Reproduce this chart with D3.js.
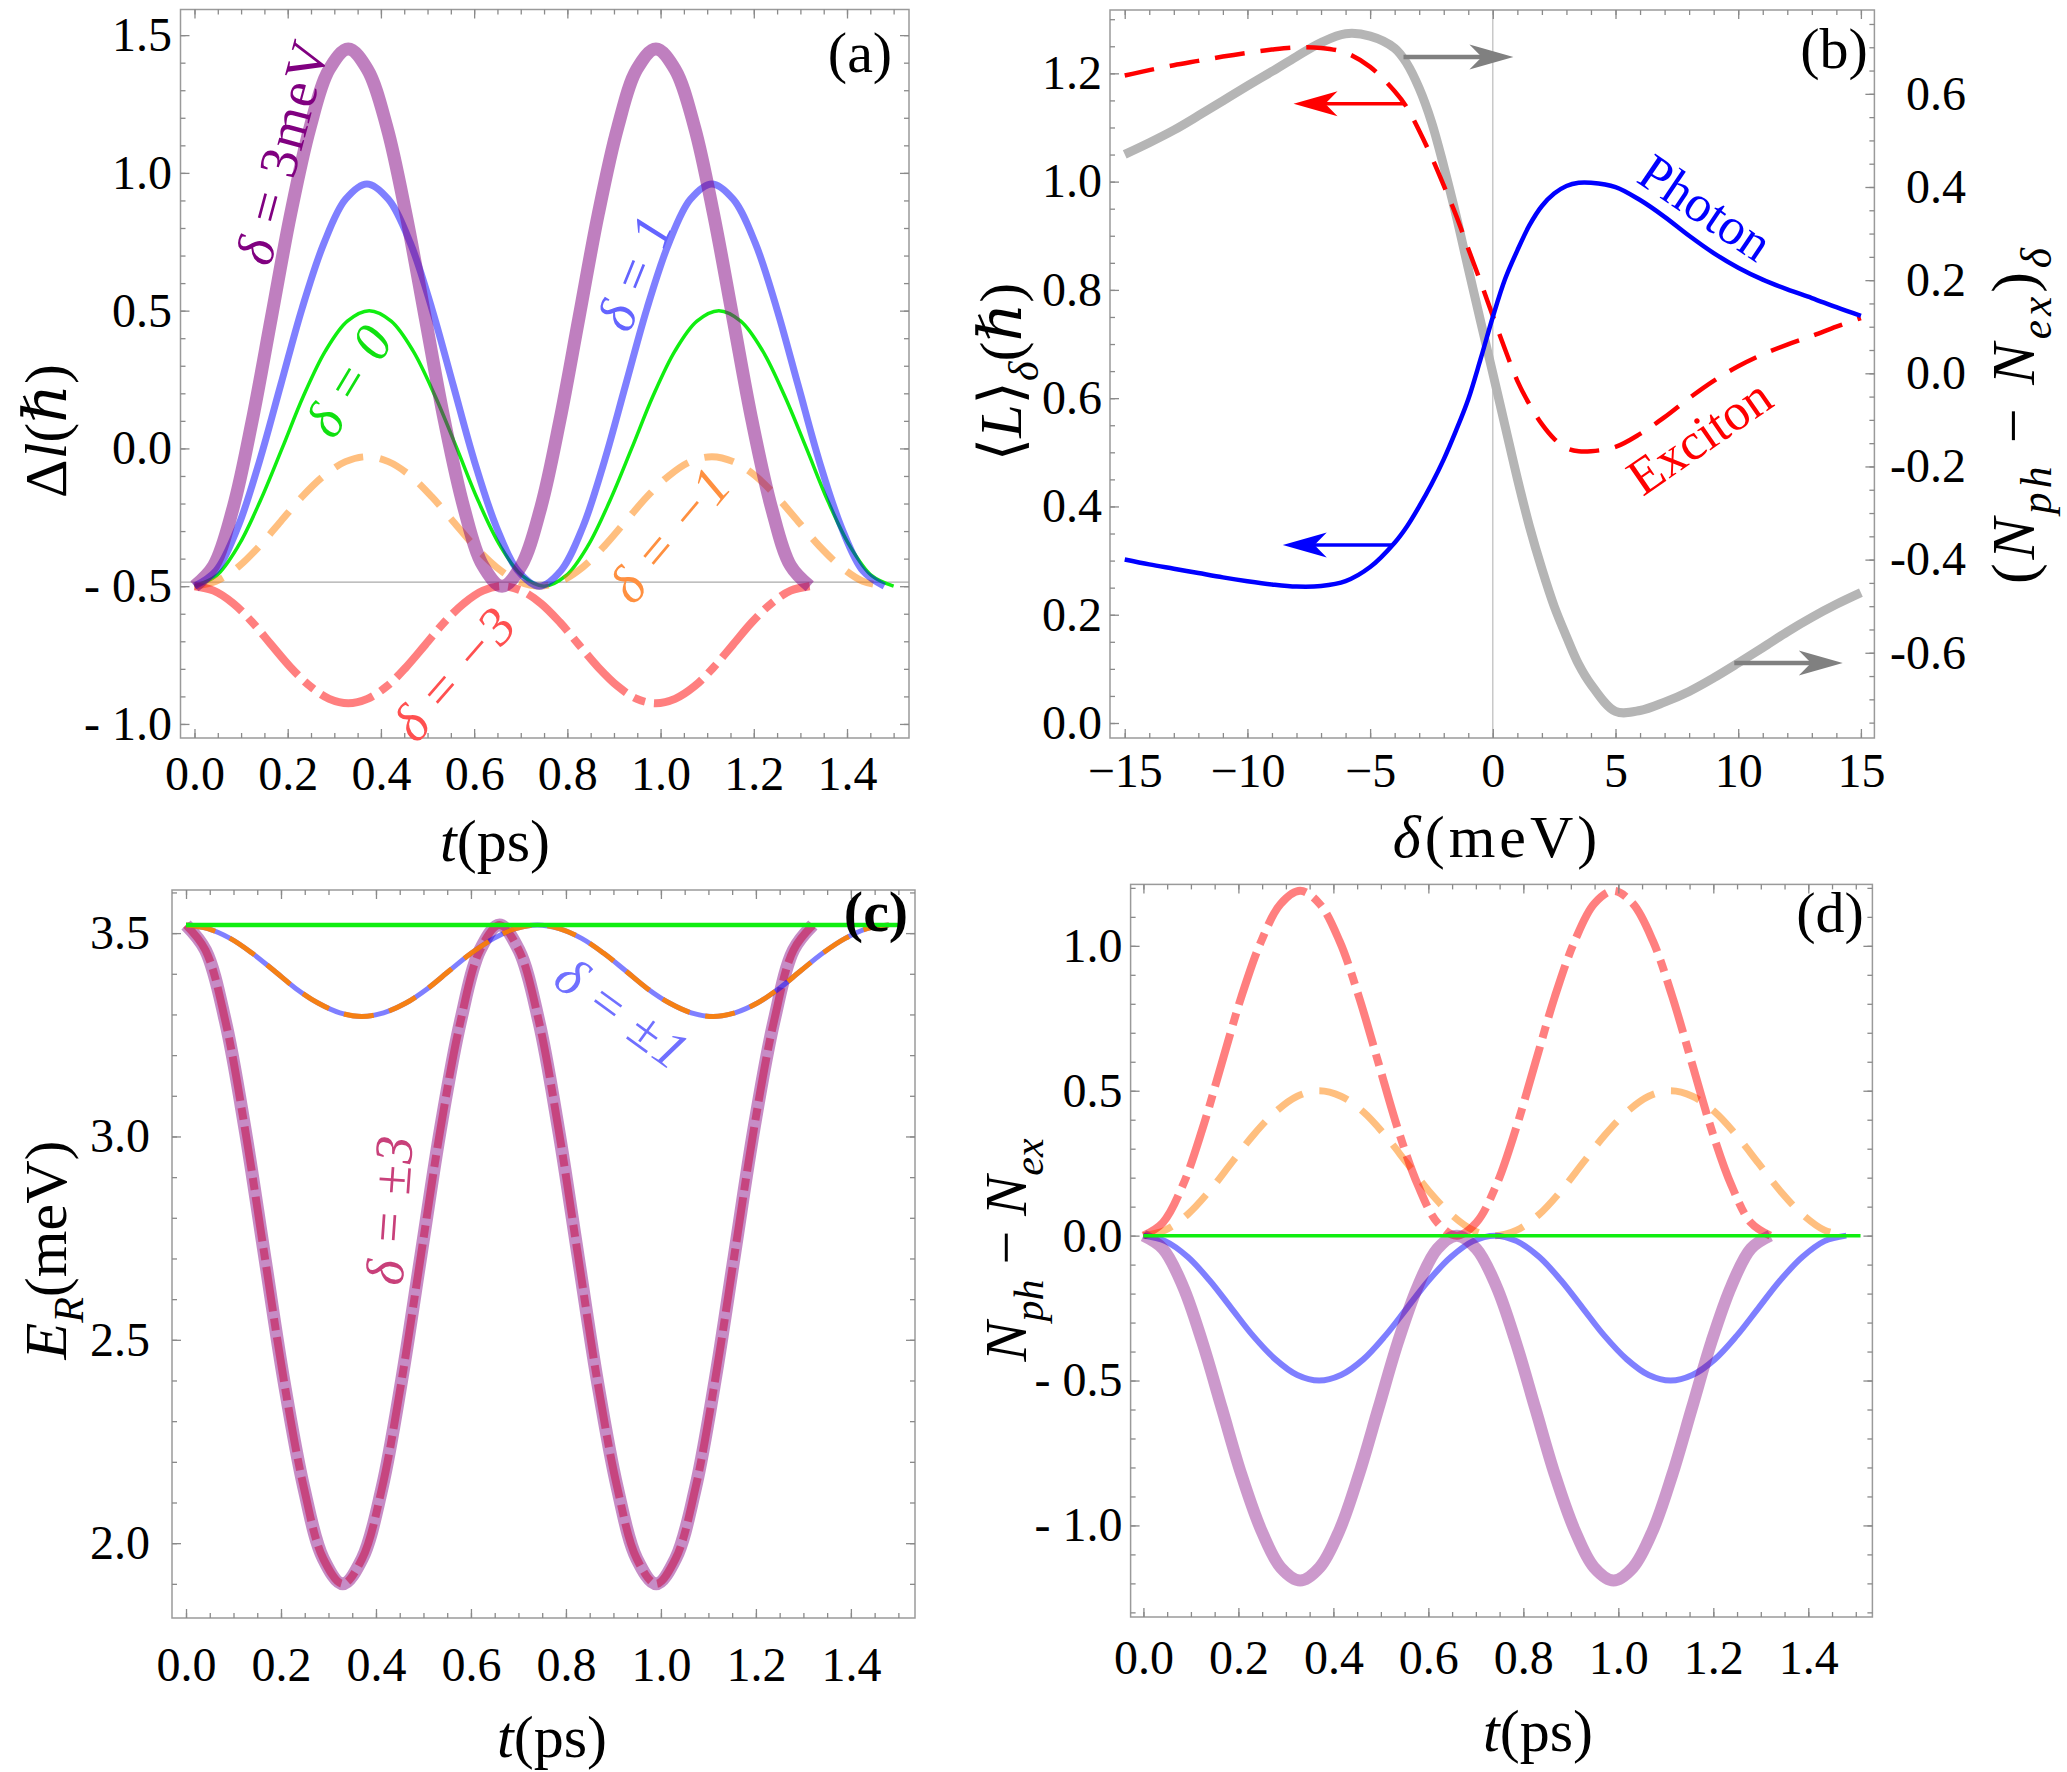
<!DOCTYPE html>
<html>
<head>
<meta charset="utf-8">
<script src="https://cdn.jsdelivr.net/npm/d3@7"></script>
<style>
  body { margin: 0; background: #fff; }
  svg text { font-family: "Liberation Serif", "DejaVu Serif", "Noto Serif", serif; }
</style>
</head>
<body>
<svg id="fig" width="2067" height="1772"></svg>
<script>
// ---- time grids (ps), one per detuning family ----
const tPm3 = [0, 0.041, 0.083, 0.124, 0.165, 0.206, 0.248, 0.289, 0.33, 0.371, 0.413, 0.454, 0.495, 0.536, 0.578, 0.619, 0.66,
  0.701, 0.743, 0.784, 0.825, 0.866, 0.908, 0.949, 0.99, 1.031, 1.073, 1.114, 1.155, 1.196, 1.238, 1.279, 1.32];
const tPm1 = [0, 0.046, 0.093, 0.139, 0.185, 0.231, 0.278, 0.324, 0.37, 0.416, 0.463, 0.509, 0.555, 0.601, 0.648, 0.694, 0.74,
  0.786, 0.833, 0.879, 0.925, 0.971, 1.018, 1.064, 1.11, 1.156, 1.203, 1.249, 1.295, 1.341, 1.388, 1.434, 1.48];
const tZero = [0, 0.047, 0.094, 0.141, 0.188, 0.234, 0.281, 0.328, 0.375, 0.422, 0.469, 0.516, 0.563, 0.609, 0.656, 0.703, 0.75,
  0.797, 0.844, 0.891, 0.938, 0.984, 1.031, 1.078, 1.125, 1.172, 1.219, 1.266, 1.313, 1.359, 1.406, 1.453, 1.5];
const tFlat = [0, 1.51];

// ---- (a) Δl(ħ) ----
const dlP3 = [-0.5, -0.426, -0.215, 0.102, 0.475, 0.848, 1.165, 1.376, 1.45, 1.376, 1.165, 0.848, 0.475, 0.102, -0.215, -0.426, -0.5,
  -0.426, -0.215, 0.102, 0.475, 0.848, 1.165, 1.376, 1.45, 1.376, 1.165, 0.848, 0.475, 0.102, -0.215, -0.426, -0.5];
const dlM3 = [-0.5, -0.516, -0.562, -0.631, -0.713, -0.794, -0.863, -0.909, -0.925, -0.909, -0.863, -0.794, -0.713, -0.631, -0.562, -0.516, -0.5,
  -0.516, -0.562, -0.631, -0.713, -0.794, -0.863, -0.909, -0.925, -0.909, -0.863, -0.794, -0.713, -0.631, -0.562, -0.516, -0.5];
const dlP1 = [-0.5, -0.444, -0.286, -0.049, 0.23, 0.509, 0.746, 0.904, 0.96, 0.904, 0.746, 0.509, 0.23, -0.049, -0.286, -0.444, -0.5,
  -0.444, -0.286, -0.049, 0.23, 0.509, 0.746, 0.904, 0.96, 0.904, 0.746, 0.509, 0.23, -0.049, -0.286, -0.444, -0.5];
const dlM1 = [-0.5, -0.482, -0.431, -0.355, -0.265, -0.175, -0.099, -0.048, -0.03, -0.048, -0.099, -0.175, -0.265, -0.355, -0.431, -0.482, -0.5,
  -0.482, -0.431, -0.355, -0.265, -0.175, -0.099, -0.048, -0.03, -0.048, -0.099, -0.175, -0.265, -0.355, -0.431, -0.482, -0.5];
const dlZero = [-0.5, -0.462, -0.354, -0.191, 0, 0.191, 0.354, 0.462, 0.5, 0.462, 0.354, 0.191, 0, -0.191, -0.354, -0.462, -0.5,
  -0.462, -0.354, -0.191, 0, 0.191, 0.354, 0.462, 0.5, 0.462, 0.354, 0.191, 0, -0.191, -0.354, -0.462, -0.5];
const dlRef = -0.485;

// ---- (b) vs detuning ----
const detuning = [-15, -14, -13, -12, -11, -10, -9, -8, -7, -6, -5, -4, -3.5, -3, -2.5, -2, -1.5, -1, -0.5, 0,
  0.5, 1, 1.5, 2, 2.5, 3, 3.5, 4, 5, 6, 7, 8, 9, 10, 11, 12, 13, 14, 15];
const photonL = [0.302, 0.293, 0.285, 0.277, 0.269, 0.262, 0.256, 0.252, 0.253, 0.262, 0.288, 0.333, 0.363, 0.4, 0.441, 0.487, 0.54, 0.598, 0.672, 0.75,
  0.82, 0.873, 0.92, 0.955, 0.978, 0.992, 0.998, 0.998, 0.99, 0.966, 0.935, 0.9, 0.868, 0.841, 0.819, 0.801, 0.785, 0.768, 0.752];
const excitonL = [1.196, 1.206, 1.215, 1.223, 1.231, 1.238, 1.244, 1.248, 1.247, 1.238, 1.212, 1.167, 1.137, 1.094, 1.046, 0.993, 0.938, 0.876, 0.815, 0.752,
  0.69, 0.632, 0.588, 0.552, 0.525, 0.508, 0.502, 0.502, 0.51, 0.534, 0.565, 0.6, 0.632, 0.659, 0.681, 0.699, 0.715, 0.732, 0.748];
const diffN = [0.47, 0.495, 0.522, 0.553, 0.585, 0.617, 0.648, 0.68, 0.71, 0.729, 0.724, 0.698, 0.665, 0.612, 0.54, 0.445, 0.34, 0.225, 0.112, 0,
  -0.113, -0.226, -0.33, -0.42, -0.5, -0.565, -0.625, -0.668, -0.726, -0.724, -0.706, -0.683, -0.654, -0.622, -0.589, -0.555, -0.524, -0.496, -0.471];
// arrows: start / end detuning, height on left axis
const arrowFrom = [-3.64, -3.64, -4.12, 9.84];
const arrowTo = [0.84, -8.12, -8.56, 14.26];
const arrowAt = [1.23, 1.144, 0.329, 0.111];

// ---- (c) E_R ----
const erPm3 = [3.52, 3.458, 3.283, 3.02, 2.71, 2.4, 2.137, 1.962, 1.9, 1.962, 2.137, 2.4, 2.71, 3.02, 3.283, 3.458, 3.52,
  3.458, 3.283, 3.02, 2.71, 2.4, 2.137, 1.962, 1.9, 1.962, 2.137, 2.4, 2.71, 3.02, 3.283, 3.458, 3.52];
const erPm1 = [3.52, 3.511, 3.487, 3.451, 3.408, 3.364, 3.328, 3.304, 3.295, 3.304, 3.328, 3.364, 3.408, 3.451, 3.487, 3.511, 3.52,
  3.511, 3.487, 3.451, 3.408, 3.364, 3.328, 3.304, 3.295, 3.304, 3.328, 3.364, 3.408, 3.451, 3.487, 3.511, 3.52];
const erZero = [3.52, 3.52];

// ---- (d) N_ph - N_ex ----
const ndP3 = [0, -0.045, -0.174, -0.367, -0.595, -0.823, -1.016, -1.145, -1.19, -1.145, -1.016, -0.823, -0.595, -0.367, -0.174, -0.045, 0,
  -0.045, -0.174, -0.367, -0.595, -0.823, -1.016, -1.145, -1.19, -1.145, -1.016, -0.823, -0.595, -0.367, -0.174, -0.045, 0];
const ndM3 = [0, 0.045, 0.174, 0.367, 0.595, 0.823, 1.016, 1.145, 1.19, 1.145, 1.016, 0.823, 0.595, 0.367, 0.174, 0.045, 0,
  0.045, 0.174, 0.367, 0.595, 0.823, 1.016, 1.145, 1.19, 1.145, 1.016, 0.823, 0.595, 0.367, 0.174, 0.045, 0];
const ndP1 = [0, -0.019, -0.073, -0.154, -0.25, -0.346, -0.427, -0.481, -0.5, -0.481, -0.427, -0.346, -0.25, -0.154, -0.073, -0.019, 0,
  -0.019, -0.073, -0.154, -0.25, -0.346, -0.427, -0.481, -0.5, -0.481, -0.427, -0.346, -0.25, -0.154, -0.073, -0.019, 0];
const ndM1 = [0, 0.019, 0.073, 0.154, 0.25, 0.346, 0.427, 0.481, 0.5, 0.481, 0.427, 0.346, 0.25, 0.154, 0.073, 0.019, 0,
  0.019, 0.073, 0.154, 0.25, 0.346, 0.427, 0.481, 0.5, 0.481, 0.427, 0.346, 0.25, 0.154, 0.073, 0.019, 0];
const ndZero = [0, 0];

// ---- tick labels ----
const tTicks = [0, 0.2, 0.4, 0.6, 0.8, 1.0, 1.2, 1.4];
const tLabels = ["0.0", "0.2", "0.4", "0.6", "0.8", "1.0", "1.2", "1.4"];
const aTicks = [-1, -0.5, 0, 0.5, 1, 1.5];
const aLabels = ["- 1.0", "- 0.5", "0.0", "0.5", "1.0", "1.5"];
const bxTicks = [-15, -10, -5, 0, 5, 10, 15];
const bxLabels = ["\u221215", "\u221210", "\u22125", "0", "5", "10", "15"];
const bLTicks = [0, 0.2, 0.4, 0.6, 0.8, 1.0, 1.2];
const bLLabels = ["0.0", "0.2", "0.4", "0.6", "0.8", "1.0", "1.2"];
const bRTicks = [-0.6, -0.4, -0.2, 0, 0.2, 0.4, 0.6];
const bRLabels = ["-0.6", "-0.4", "-0.2", "0.0", "0.2", "0.4", "0.6"];
const cTicks = [2.0, 2.5, 3.0, 3.5];
const cLabels = ["2.0", "2.5", "3.0", "3.5"];
const dTicks = [-1, -0.5, 0, 0.5, 1];
const dLabels = ["- 1.0", "- 0.5", "0.0", "0.5", "1.0"];

const serif = '"Liberation Serif", "DejaVu Serif", serif';
const svg = d3.select("#fig");

function steps(a, b, s) {
  let n = Math.round((b - a) / s);
  return d3.range(n + 1).map(i => +(a + i * s).toFixed(4));
}

function makePanel(box, xDom, yDom) {
  let g = svg.append("g").attr("transform", `translate(${box[0]},${box[1]})`);
  let w = box[2] - box[0], h = box[3] - box[1];
  let x = d3.scaleLinear().domain(xDom).range([0, w]);
  let y = d3.scaleLinear().domain(yDom).range([h, 0]);
  return { g, w, h, x, y };
}

function styleAxis(sel) {
  sel.attr("font-family", null).attr("font-size", null);
  sel.select(".domain").remove();
  sel.selectAll("line").attr("stroke", "#8a8a8a").attr("stroke-width", 1.3);
  sel.selectAll("text").style("font-family", serif).style("font-size", "48px").attr("fill", "#000");
}

function addAxis(p, axisFn, scale, major, minor, labels, pad, pos) {
  let tr = pos === "bottom" ? `translate(0,${p.h})` : pos === "right" ? `translate(${p.w},0)` : null;
  p.g.append("g").attr("transform", tr)
    .call(axisFn(scale).tickValues(minor).tickSize(-5).tickFormat(""))
    .call(styleAxis);
  return p.g.append("g").attr("transform", tr)
    .call(axisFn(scale).tickValues(major).tickSize(-9).tickPadding(pad || 0)
      .tickFormat(d => labels ? labels[major.indexOf(d)] : ""))
    .call(styleAxis);
}

function frame(p) {
  p.g.append("rect").attr("width", p.w).attr("height", p.h)
    .attr("fill", "none").attr("stroke", "#9a9a9a").attr("stroke-width", 1.5);
}

function curve(p, xs, ys, st, yScale) {
  let ys2 = yScale || p.y;
  let line = d3.line()
    .x((d, i) => p.x(xs[i]))
    .y(d => ys2(d))
    .curve(st.curve || d3.curveCatmullRom.alpha(0.5));
  p.g.append("path").datum(ys)
    .attr("d", line)
    .attr("fill", "none")
    .attr("stroke", st.color)
    .attr("stroke-width", st.width)
    .attr("stroke-opacity", st.opacity == null ? 1 : st.opacity)
    .attr("stroke-dasharray", st.dash || null)
    .attr("stroke-linecap", "butt")
    .attr("stroke-linejoin", "round");
}

// parts: [text, kind] with kind n / i / sub / subi
function rich(x, y, parts, size, opt) {
  opt = opt || {};
  let t = svg.append("text")
    .attr("transform", `translate(${x},${y}) rotate(${opt.rotate || 0})`)
    .attr("text-anchor", "middle")
    .attr("dy", "0.35em")
    .style("font-family", serif)
    .style("font-size", size + "px")
    .style("font-weight", opt.bold ? "bold" : "normal")
    .style("letter-spacing", opt.ls ? opt.ls + "px" : null)
    .attr("fill", opt.color || "#000");
  let low = false;
  parts.forEach(pt => {
    let ts = t.append("tspan").text(pt[0]);
    if (pt[1].indexOf("i") >= 0) ts.style("font-style", "italic");
    let isSub = pt[1].indexOf("sub") === 0;
    if (isSub) ts.style("font-size", (size * 0.7) + "px");
    if (isSub && !low) { ts.attr("dy", size * 0.28); low = true; }
    else if (!isSub && low) { ts.attr("dy", -size * 0.28); low = false; }
  });
  return t;
}

// ================= (a) =================
let pa = makePanel([180.5, 9.5, 909, 738], [-0.03, 1.533], [-1.051, 1.593]);
pa.g.append("line").attr("x1", 0).attr("x2", pa.w)
  .attr("y1", pa.y(dlRef)).attr("y2", pa.y(dlRef))
  .attr("stroke", "#aaa").attr("stroke-width", 1.3);
curve(pa, tZero, dlZero, { color: "#10ee10", width: 3.5 });
curve(pa, tPm1, dlM1, { color: "rgb(255,128,0)", width: 7, opacity: 0.5, dash: "30,17" });
curve(pa, tPm3, dlM3, { color: "rgb(255,0,0)", width: 8, opacity: 0.5, dash: "55,9,12,9" });
curve(pa, tPm1, dlP1, { color: "rgb(0,0,255)", width: 7, opacity: 0.5 });
curve(pa, tPm3, dlP3, { color: "rgb(128,0,128)", width: 13, opacity: 0.5 });
frame(pa);
addAxis(pa, d3.axisBottom, pa.x, tTicks, steps(0, 1.5, 0.05), tLabels, 18, "bottom");
addAxis(pa, d3.axisTop, pa.x, tTicks, steps(0, 1.5, 0.05), null, 0, "top");
addAxis(pa, d3.axisLeft, pa.y, aTicks, steps(-1, 1.5, 0.1), aLabels, 8.5, "left");
addAxis(pa, d3.axisRight, pa.y, aTicks, steps(-1, 1.5, 0.1), null, 0, "right");

// ================= (b) =================
let pb = makePanel([1110, 10, 1874.4, 738], [-15.6, 15.55], [-0.0277, 1.317]);
pb.yR = d3.scaleLinear().domain([-0.783, 0.78]).range([pb.h, 0]);
pb.g.append("line").attr("x1", pb.x(0)).attr("x2", pb.x(0)).attr("y1", 0).attr("y2", pb.h)
  .attr("stroke", "#bbb").attr("stroke-width", 1.2);
curve(pb, detuning, diffN, { color: "#b5b5b5", width: 9 }, pb.yR);
curve(pb, detuning, excitonL, { color: "#ff0000", width: 4.5, dash: "30,16" });
curve(pb, detuning, photonL, { color: "#0000ff", width: 4.5 });

const arrowColor = ["#808080", "#ff0000", "#0000ff", "#808080"];
arrowFrom.forEach((a, i) => {
  let X0 = pb.x(a), X1 = pb.x(arrowTo[i]), Y = pb.y(arrowAt[i]);
  let dir = Math.sign(X1 - X0), L = 44, Wd = 25;
  pb.g.append("line").attr("x1", X0).attr("x2", X1 - dir * L * 0.7)
    .attr("y1", Y).attr("y2", Y)
    .attr("stroke", arrowColor[i]).attr("stroke-width", i % 3 === 0 ? 4.5 : 3.5);
  pb.g.append("path")
    .attr("d", `M${X1},${Y} L${X1 - dir * L},${Y - Wd / 2} L${X1 - dir * L * 0.72},${Y} L${X1 - dir * L},${Y + Wd / 2} Z`)
    .attr("fill", arrowColor[i]);
});
frame(pb);
addAxis(pb, d3.axisBottom, pb.x, bxTicks, steps(-15, 15, 1), bxLabels, 15, "bottom");
addAxis(pb, d3.axisTop, pb.x, bxTicks, steps(-15, 15, 1), null, 0, "top");
addAxis(pb, d3.axisLeft, pb.y, bLTicks, steps(0, 1.3, 0.05), bLLabels, 8, "left");
let rAx = addAxis(pb, d3.axisRight, pb.yR, bRTicks, steps(-0.75, 0.75, 0.05), bRLabels, 0, "right");
rAx.selectAll("text").attr("text-anchor", "end").attr("x", 1966 - 1874.4);

// ================= (c) =================
let pc = makePanel([172, 890, 915, 1618], [-0.0295, 1.535], [1.816, 3.606]);
curve(pc, tPm3, erPm3, { color: "rgb(255,0,0)", width: 8, opacity: 0.5, dash: "45,7,12,7" });
curve(pc, tPm3, erPm3, { color: "rgb(128,0,128)", width: 13, opacity: 0.45 });
curve(pc, tPm1, erPm1, { color: "rgb(0,0,255)", width: 5, opacity: 0.5 });
curve(pc, tPm1, erPm1, { color: "#ff8000", width: 5, opacity: 0.92, dash: "30,16" });
curve(pc, tFlat, erZero, { color: "#10ee10", width: 4.5, curve: d3.curveLinear });
frame(pc);
addAxis(pc, d3.axisBottom, pc.x, tTicks, steps(0, 1.5, 0.05), tLabels, 29, "bottom");
addAxis(pc, d3.axisTop, pc.x, tTicks, steps(0, 1.5, 0.05), null, 0, "top");
addAxis(pc, d3.axisLeft, pc.y, cTicks, steps(1.9, 3.6, 0.1), cLabels, 22, "left");
addAxis(pc, d3.axisRight, pc.y, cTicks, steps(1.9, 3.6, 0.1), null, 0, "right");

// ================= (d) =================
let pd = makePanel([1130.6, 884.4, 1872.4, 1617], [-0.027, 1.535], [-1.316, 1.212]);
curve(pd, tPm1, ndM1, { color: "rgb(255,128,0)", width: 7, opacity: 0.5, dash: "30,17" });
curve(pd, tPm3, ndM3, { color: "rgb(255,0,0)", width: 8, opacity: 0.5, dash: "55,9,12,9" });
curve(pd, tPm1, ndP1, { color: "rgb(0,0,255)", width: 6, opacity: 0.5 });
curve(pd, tPm3, ndP3, { color: "rgb(128,0,128)", width: 12, opacity: 0.4 });
curve(pd, tFlat, ndZero, { color: "#10ee10", width: 3.5, curve: d3.curveLinear });
frame(pd);
addAxis(pd, d3.axisBottom, pd.x, tTicks, steps(0, 1.5, 0.05), tLabels, 23, "bottom");
addAxis(pd, d3.axisTop, pd.x, tTicks, steps(0, 1.5, 0.05), null, 0, "top");
addAxis(pd, d3.axisLeft, pd.y, dTicks, steps(-1.3, 1.2, 0.1), dLabels, 8, "left");
addAxis(pd, d3.axisRight, pd.y, dTicks, steps(-1.3, 1.2, 0.1), null, 0, "right");

// ---- axis titles ----
const T = 60;
rich(45, 431, [["\u0394", "n"], ["l", "i"], ["(", "n"], ["\u210F", "i"], [")", "n"]], T, { rotate: -90 });
rich(495, 840, [["t", "i"], ["(ps)", "n"]], T);
rich(1497, 836, [["\u03B4", "i"], ["(meV)", "n"]], T, { ls: 4 });
rich(1000, 372, [["\u27E8", "n"], ["L", "i"], ["\u27E9", "n"], ["\u03B4", "subi"], ["(", "n"], ["\u210F", "i"], [")", "n"]], T, { rotate: -90 });
rich(2012, 414, [["(", "n"], ["N", "i"], ["ph", "subi"], [" \u2212 ", "n"], ["N", "i"], ["ex", "subi"], [")", "n"], ["\u03B4", "subi"]], 62, { rotate: -90, ls: 4 });
rich(45, 1250, [["E", "i"], ["R", "subi"], ["(meV)", "n"]], T, { rotate: -90 });
rich(552, 1736, [["t", "i"], ["(ps)", "n"]], T);
rich(1005, 1250, [["N", "i"], ["ph", "subi"], [" \u2212 ", "n"], ["N", "i"], ["ex", "subi"]], T, { rotate: -90 });
rich(1538, 1730, [["t", "i"], ["(ps)", "n"]], T);

// ---- panel tags ----
rich(860, 52, [["(a)", "n"]], 58);
rich(1834, 48, [["(b)", "n"]], 58);
rich(876, 911, [["(c)", "n"]], 58, { bold: true });
rich(1830, 912, [["(d)", "n"]], 58);

// ---- curve annotations ----
const L = 54;
rich(281.5, 151.5, [["\u03B4", "i"], [" = ", "n"], ["3meV", "n"]], L, { rotate: -75, color: "#800080", ls: 2 });
rich(634, 272, [["\u03B4", "i"], [" = ", "n"], ["1", "i"]], L, { rotate: -68, color: "#6464ff", ls: 2 });
rich(348.5, 380, [["\u03B4", "i"], [" = ", "n"], ["0", "i"]], L, { rotate: -59, color: "#10e010", ls: 2 });
rich(669.5, 534, [["\u03B4", "i"], [" = ", "n"], ["\u22121", "i"]], L, { rotate: -50, color: "#ff9040", ls: 2 });
rich(454, 673, [["\u03B4", "i"], [" = ", "n"], ["\u22123", "i"]], L, { rotate: -49, color: "#ff5050", ls: 2 });
rich(389, 1209.5, [["\u03B4", "i"], [" = ", "n"], ["\u00B13", "i"]], L, { rotate: -86, color: "#c8407a", ls: 2 });
rich(623, 1013, [["\u03B4", "i"], [" = ", "n"], ["\u00B11", "i"]], L, { rotate: 36, color: "#7070ff", ls: 2 });
rich(1706, 207, [["Photon", "n"]], 52, { rotate: 34, color: "#0000ff" });
rich(1699, 436, [["Exciton", "n"]], 52, { rotate: -34.6, color: "#ff0000" });
</script>
</body>
</html>
